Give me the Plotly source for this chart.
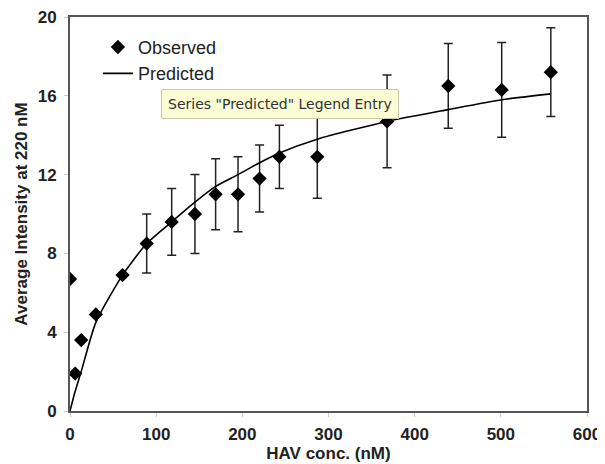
import plotly.graph_objects as go

# Data
x_obs = [0, 6, 13, 30, 61, 89, 118, 145, 169, 195, 220, 243, 287, 368, 439, 501, 558]
y_obs = [6.7, 1.9, 3.6, 4.9, 6.9, 8.5, 9.6, 10.0, 11.0, 11.0, 11.8, 12.9, 12.9, 14.7, 16.5, 16.3, 17.2]
err_obs = [0, 0, 0, 0, 0, 1.5, 1.7, 2.0, 1.8, 1.9, 1.7, 1.6, 2.1, 2.35, 2.15, 2.4, 2.25]

x_pred = [0, 6, 13, 30, 61, 89, 118, 145, 169, 195, 220, 243, 287, 368, 439, 501, 558]
y_pred = [0, 1.0, 2.0, 4.5, 6.9, 8.5, 9.6, 10.6, 11.4, 12.0, 12.6, 13.1, 13.8, 14.7, 15.3, 15.8, 16.1]

x_ticks = [0, 100, 200, 300, 400, 500, 600]
y_ticks = [0, 4, 8, 12, 16, 20]

FONT = "Liberation Sans, Arial, sans-serif"

fig = go.Figure()
fig.add_trace(go.Scatter(
    x=x_obs, y=y_obs, mode="markers", name="Observed",
    marker=dict(symbol="diamond", size=11, color="black"),
    error_y=dict(type="data", array=err_obs, visible=True,
                 color="#222222", thickness=1.5, width=4.5),
))
fig.add_trace(go.Scatter(
    x=x_pred, y=y_pred, mode="lines", name="Predicted",
    line=dict(color="black", width=1.6, shape="spline", smoothing=0.6),
))

fig.add_annotation(
    xref="paper", yref="paper", x=0.407, y=0.779,
    xanchor="center", yanchor="middle",
    text='Series "Predicted" Legend Entry', showarrow=False,
    font=dict(family="DejaVu Sans, sans-serif", size=14, color="#333333"),
    bgcolor="#FBFBD4", bordercolor="#C9C9A8", borderwidth=1, borderpad=6,
)

# The page body adds an 8px offset, so the figure is 8px smaller and margins compensate.
fig.update_layout(
    width=597, height=456,
    margin=dict(l=62, r=18, t=9, b=53),
    paper_bgcolor="white", plot_bgcolor="white",
    font=dict(family=FONT, color="#222222"),
    showlegend=True,
    legend=dict(x=0.054, y=0.97, xanchor="left", yanchor="top",
                bgcolor="rgba(0,0,0,0)", font=dict(size=18, color="#222222"),
                tracegroupgap=0),
)
fig.update_xaxes(
    range=[0, 600], tickvals=x_ticks, showgrid=False, zeroline=False,
    showline=True, mirror=True, linecolor="#555555", linewidth=2,
    ticks="outside", ticklen=4, tickcolor="#cccccc", automargin=False,
    ticklabeloverflow="allow", ticklabelstandoff=3,
    tickfont=dict(size=17, weight="bold", family=FONT),
    title=dict(text="HAV conc. (nM)", font=dict(size=17, weight="bold", family=FONT), standoff=0),
)
fig.update_yaxes(
    range=[0, 20], tickvals=y_ticks, showgrid=False, zeroline=False,
    showline=True, mirror=True, linecolor="#555555", linewidth=2,
    ticks="outside", ticklen=4, tickcolor="#cccccc", automargin=False,
    ticklabeloverflow="allow", ticklabelstandoff=4,
    tickfont=dict(size=17, weight="bold", family=FONT),
    title=dict(text="Average Intensity at 220 nM", font=dict(size=17, weight="bold", family=FONT), standoff=6),
)

fig.write_html("out.html")
